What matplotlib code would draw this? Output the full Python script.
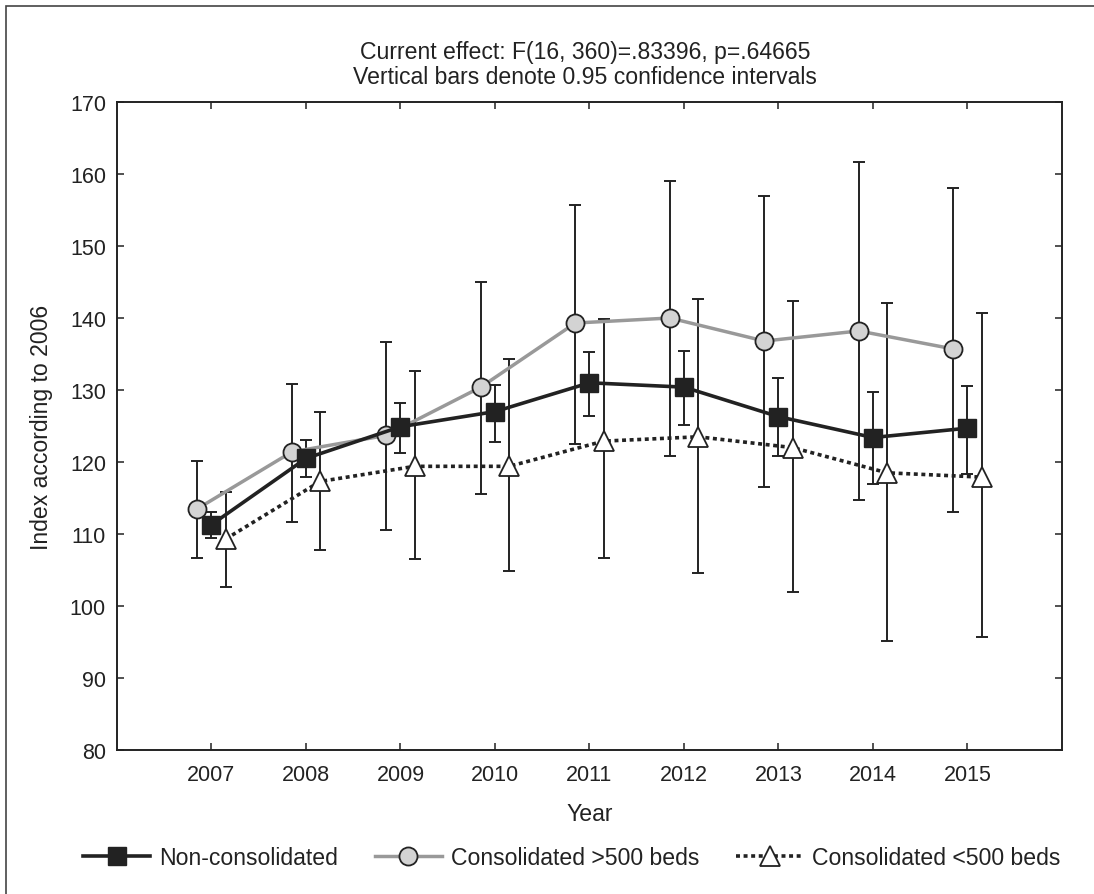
import matplotlib
matplotlib.use("Agg")
import matplotlib.pyplot as plt
from matplotlib.patches import Rectangle
import numpy as np

plt.rcParams["font.family"] = ["Liberation Sans", "DejaVu Sans"]

# ── data ────────────────────────────────────────────────
years = [2007, 2008, 2009, 2010, 2011, 2012, 2013, 2014, 2015]

non_mean = [111.3, 120.5, 124.9, 127.0, 131.0, 130.4, 126.3, 123.4, 124.7]
non_lo   = [109.4, 117.9, 121.3, 122.8, 126.4, 125.1, 120.9, 117.0, 118.4]
non_hi   = [113.0, 123.0, 128.2, 130.7, 135.3, 135.4, 131.7, 129.7, 130.5]

big_mean = [113.5, 121.4, 123.7, 130.4, 139.3, 140.0, 136.8, 138.2, 135.7]
big_lo   = [106.7, 111.7, 110.5, 115.6, 122.5, 120.9, 116.5, 114.7, 113.0]
big_hi   = [120.1, 130.8, 136.7, 145.0, 155.7, 159.0, 156.9, 161.7, 158.1]

small_mean = [109.3, 117.3, 119.4, 119.4, 122.9, 123.5, 122.0, 118.5, 117.9]
small_lo   = [102.6, 107.8, 106.5, 104.9, 106.6, 104.6, 101.9, 95.1, 95.7]
small_hi   = [115.9, 127.0, 132.6, 134.3, 139.8, 142.7, 142.3, 142.1, 140.7]

labels = ["Non-consolidated", "Consolidated >500 beds", "Consolidated <500 beds"]
title_lines = ["Current effect: F(16, 360)=.83396, p=.64665",
               "Vertical bars denote 0.95 confidence intervals"]

INK = "#222222"
FS_TICK = 15.5
FS = 16.6

fig = plt.figure(figsize=(10.94, 8.95), dpi=100)
ax = fig.add_axes([117 / 1094, 1 - 751 / 895, (1062 - 117) / 1094, (751 - 103) / 895])

# outer frame (only left/top visible in the reference)
fig.patches.append(Rectangle((6 / 1094, -0.2), 1.5, 1.2 - 7 / 895,
                             transform=fig.transFigure, fill=False,
                             edgecolor="#444444", linewidth=1.2))

x = np.array(years, dtype=float)
series = [
    (x - 0.15, big_mean, big_lo, big_hi,
     dict(color="#999999", lw=2.5, ls="-", marker="o", ms=13,
          mfc="#d3d3d3", mec=INK, mew=1.3), labels[1]),
    (x, non_mean, non_lo, non_hi,
     dict(color=INK, lw=2.6, ls="-", marker="s", ms=13,
          mfc=INK, mec=INK, mew=1.0), labels[0]),
    (x + 0.15, small_mean, small_lo, small_hi,
     dict(color=INK, lw=2.6, ls=(0, (1.1, 1.0)), marker="^", ms=14,
          mfc="white", mec=INK, mew=1.3), labels[2]),
]

handles = {}
for xs, m, lo, hi, style, lab in series:
    m = np.array(m)
    err = [m - np.array(lo), np.array(hi) - m]
    ax.errorbar(xs, m, yerr=err, fmt="none", ecolor=INK, elinewidth=1.4,
                capsize=4, capthick=1.4, zorder=2)
    line, = ax.plot(xs, m, label=lab, zorder=3, **style)
    handles[lab] = line

ax.set_xlim(2006, 2016)
ax.set_ylim(80, 170)
ax.set_xticks(years)
ax.set_yticks(np.arange(80, 171, 10))
ax.tick_params(direction="in", length=5, width=1.1, colors=INK,
               labelsize=FS_TICK, top=True, right=True)
ax.tick_params(axis="x", pad=10)
ax.tick_params(axis="y", pad=8)
for s in ax.spines.values():
    s.set_linewidth(1.4)
    s.set_color(INK)

ax.set_xlabel("Year", fontsize=FS, color=INK, labelpad=12)
ax.set_ylabel("Index according to 2006", fontsize=FS, color=INK, labelpad=12)

fig.text(585 / 1094, 1 - 53 / 895, title_lines[0], ha="center", va="center",
         fontsize=FS, color=INK)
fig.text(585 / 1094, 1 - 77 / 895, title_lines[1], ha="center", va="center",
         fontsize=FS, color=INK)

fig.legend([handles[l] for l in labels], labels, loc="center",
           bbox_to_anchor=(572 / 1094, 1 - 859 / 895), ncol=3, frameon=False,
           fontsize=FS, handlelength=2.9, handletextpad=0.4, columnspacing=1.6,
           labelcolor=INK)

fig.savefig("out.png", dpi=100)
